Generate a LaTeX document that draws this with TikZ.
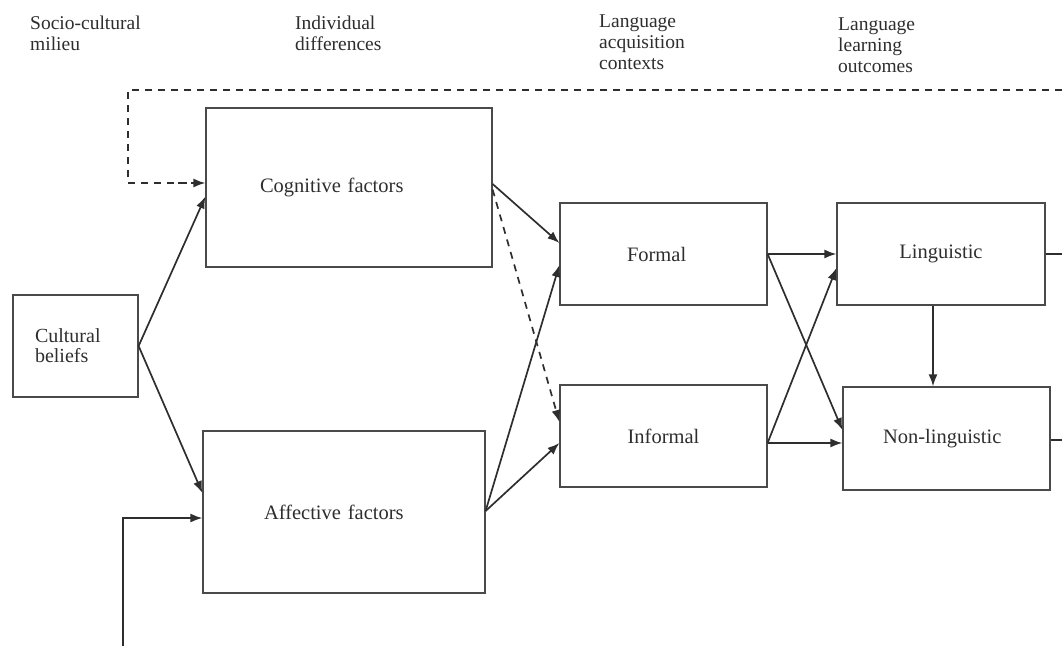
\documentclass[tikz,border=0pt]{standalone}
\usepackage{fontspec}
\setmainfont{Liberation Serif}
\usetikzlibrary{arrows.meta,calc}
\definecolor{ink}{HTML}{2E2E2E}
\definecolor{boxc}{HTML}{4A4A4A}
\newcommand{\txtsize}{\fontsize{19.5}{21}\selectfont}
\newcommand{\boxsize}{\fontsize{20.5}{21}\selectfont}
\begin{document}
\begin{tikzpicture}[x=1pt,y=-1pt,
  every node/.style={font=\txtsize, text=ink},
  box/.style={draw=boxc, line width=1.2pt, inner sep=0pt, align=center, font=\boxsize},
  tip/.tip={Latex[length=12pt,width=9pt]},
  arr/.style={draw=ink, line width=1.7pt, -tip},
  dsh/.style={draw=ink, line width=1.7pt, dash pattern=on 7pt off 6pt},
  lbl/.style={anchor=north west, inner sep=0pt, align=left}]
\useasboundingbox (0,0) rectangle (1062,646);
% column headings
\node[lbl] (h1) at (30,16) {Socio-cultural\\milieu};
\node[lbl] (h2) at (295,16) {Individual\\differences};
\node[lbl] (h3) at (599,15) {Language\\acquisition\\contexts};
\node[lbl] (h4) at (838,18) {Language\\learning\\outcomes};
% boxes
\node[box, minimum width=125pt, minimum height=102pt, text width=81pt, align=left, font=\fontsize{20}{20}\selectfont] (cult) at (75.5,346) {Cultural\\beliefs};
\node[box, minimum width=286pt, minimum height=159pt, text width=178pt, align=left] (cog) at (349,187.5) {Cognitive factors};
\node[box, minimum width=282pt, minimum height=162pt, text width=160pt, align=left] (aff) at (344,512) {Affective factors};
\node[box, minimum width=207pt, minimum height=102pt, text width=73pt, align=left] (formal) at (663.5,254) {Formal};
\node[box, minimum width=207pt, minimum height=102pt] (informal) at (663.5,436) {Informal};
\node[box, minimum width=208pt, minimum height=102pt] (ling) at (941,254) {Linguistic};
\node[box, minimum width=207pt, minimum height=103pt, text width=127pt, align=left] (nonling) at (946.5,438.5) {Non-linguistic};
% free ends
\coordinate (fbR) at (1062,90);
\coordinate (fbL) at (128,90);
\coordinate (fbB) at (123,646);
\coordinate (lingR) at (1062,254);
\coordinate (nonR) at (1062,440);
% feedback loops
\draw[dsh] (fbR) -- (fbL) |- ([yshift=4.5pt]cog.west);
\draw[dsh, -tip] ([yshift=4.5pt]cog.west -| fbL) ++(50,0) -- ([yshift=4.5pt]cog.west);
\draw[arr] (fbB) |- ([yshift=-6pt]aff.west);
% cultural beliefs
\draw[arr] (cult.east) -- ([yshift=-9pt]cog.west);
\draw[arr] (cult.east) -- ([yshift=19pt]aff.west);
% individual differences to contexts
\draw[arr] ([yshift=3.5pt]cog.east) -- ([yshift=11pt]formal.west);
\draw[dsh, -tip] ([yshift=-2pt]cog.east) -- ([yshift=14pt]informal.west);
\draw[arr] ([yshift=1pt]aff.east) -- ([yshift=-11pt]formal.west);
\draw[arr] ([yshift=1pt]aff.east) -- ([yshift=-7pt]informal.west);
% contexts to outcomes
\draw[arr] (formal.east) -- (ling.west);
\draw[arr] (formal.east) -- ([yshift=8.5pt]nonling.west);
\draw[arr] ([yshift=-7pt]informal.east) -- ([yshift=-14pt]ling.west);
\draw[arr] ([yshift=-7pt]informal.east) -- ([yshift=-4.5pt]nonling.west);
\draw[arr] ([xshift=-8pt]ling.south) -- ([xshift=-8pt]ling.south |- nonling.north);
% stubs leaving the picture
\draw[draw=ink, line width=1.7pt] (ling.east) -- (lingR);
\draw[draw=ink, line width=1.7pt] ([yshift=-1.5pt]nonling.east) -- (nonR);
\end{tikzpicture}
\end{document}
